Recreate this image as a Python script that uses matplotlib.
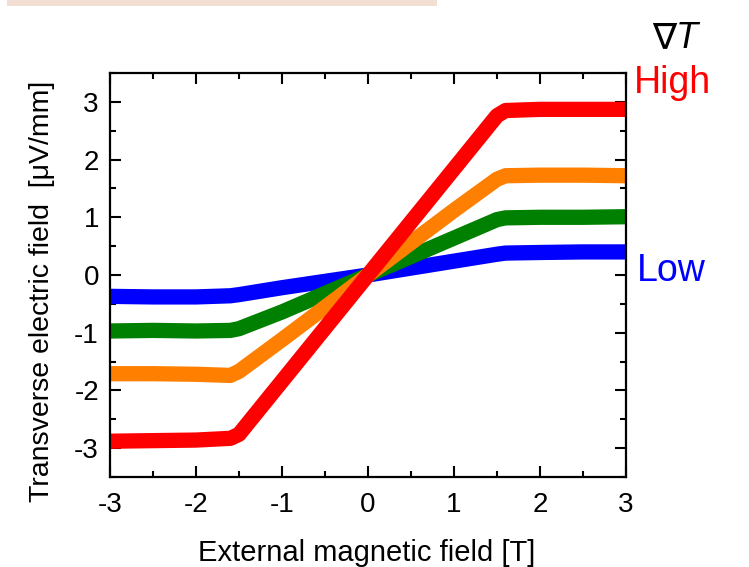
import matplotlib
matplotlib.use("Agg")
import matplotlib.pyplot as plt
from matplotlib.ticker import MultipleLocator
from matplotlib.patches import Rectangle

plt.rcParams['font.family'] = ['Liberation Sans', 'DejaVu Sans']
plt.rcParams['axes.unicode_minus'] = False

# Data
field = [-3, -2.5, -2, -1.6, -1.5, -1, -0.5, 0, 0.5, 1, 1.5, 1.6, 2, 2.5, 3]
e_red = [-2.88, -2.87, -2.86, -2.83, -2.76, -1.84, -0.92, 0.0, 0.92, 1.84, 2.76, 2.85, 2.87, 2.87, 2.87]
e_orange = [-1.71, -1.71, -1.72, -1.74, -1.67, -1.12, -0.56, 0.0, 0.56, 1.12, 1.66, 1.72, 1.73, 1.73, 1.72]
e_green = [-0.97, -0.96, -0.97, -0.96, -0.93, -0.64, -0.32, 0.0, 0.32, 0.64, 0.96, 0.99, 1.00, 1.00, 1.01]
e_blue = [-0.37, -0.38, -0.38, -0.36, -0.34, -0.22, -0.11, 0.0, 0.12, 0.24, 0.36, 0.38, 0.39, 0.40, 0.40]

series = [(e_blue, '#0000ff'), (e_green, '#008000'), (e_orange, '#ff8000'), (e_red, '#ff0000')]

W, H = 749, 567
fig = plt.figure(figsize=(W / 100, H / 100), dpi=100)

# faint band at the top of the image
fig.patches.append(Rectangle((7 / W, 1 - 6 / H), 430 / W, 6 / H, transform=fig.transFigure,
                             facecolor='#f3ded3', edgecolor='none'))

ax = fig.add_axes([110 / W, 1 - 477 / H, 516 / W, 404 / H])

for vals, col in series:
    ax.plot(field, vals, color=col, lw=11, solid_joinstyle='round', solid_capstyle='butt')

ax.set_xlim(-3, 3)
ax.set_ylim(-3.5, 3.5)
ax.xaxis.set_major_locator(MultipleLocator(1))
ax.xaxis.set_minor_locator(MultipleLocator(0.5))
ax.yaxis.set_major_locator(MultipleLocator(1))
ax.yaxis.set_minor_locator(MultipleLocator(0.5))
ax.tick_params(which='both', direction='in', top=True, right=True, width=1.5, labelsize=20)
ax.tick_params(which='major', length=8)
ax.tick_params(which='minor', length=4)
ax.tick_params(axis='x', which='major', pad=11)
ax.tick_params(axis='y', which='major', pad=8)
for s in ax.spines.values():
    s.set_linewidth(1.6)

ax.set_xlabel('External magnetic field [T]', fontsize=21)
ax.xaxis.set_label_coords(0.497, -0.208)
ax.xaxis.label.set_va('baseline')
ax.set_ylabel('Transverse electric field  [\u03bcV/mm]', fontsize=20.5)
ax.yaxis.set_label_coords(-0.132, 0.46)
ax.yaxis.label.set_va('center')

fig.text(652 / W, 1 - 48 / H, '\u2207', fontsize=26, color='black', ha='left', va='baseline')
fig.text(676 / W, 1 - 48 / H, 'T', fontsize=26, color='black', ha='left', va='baseline', style='italic')
fig.text(634 / W, 1 - 93 / H, 'High', fontsize=27, color='#ff0000', ha='left', va='baseline')
fig.text(637 / W, 1 - 281 / H, 'Low', fontsize=27, color='#0000ff', ha='left', va='baseline')

fig.savefig('out.png', dpi=100)
